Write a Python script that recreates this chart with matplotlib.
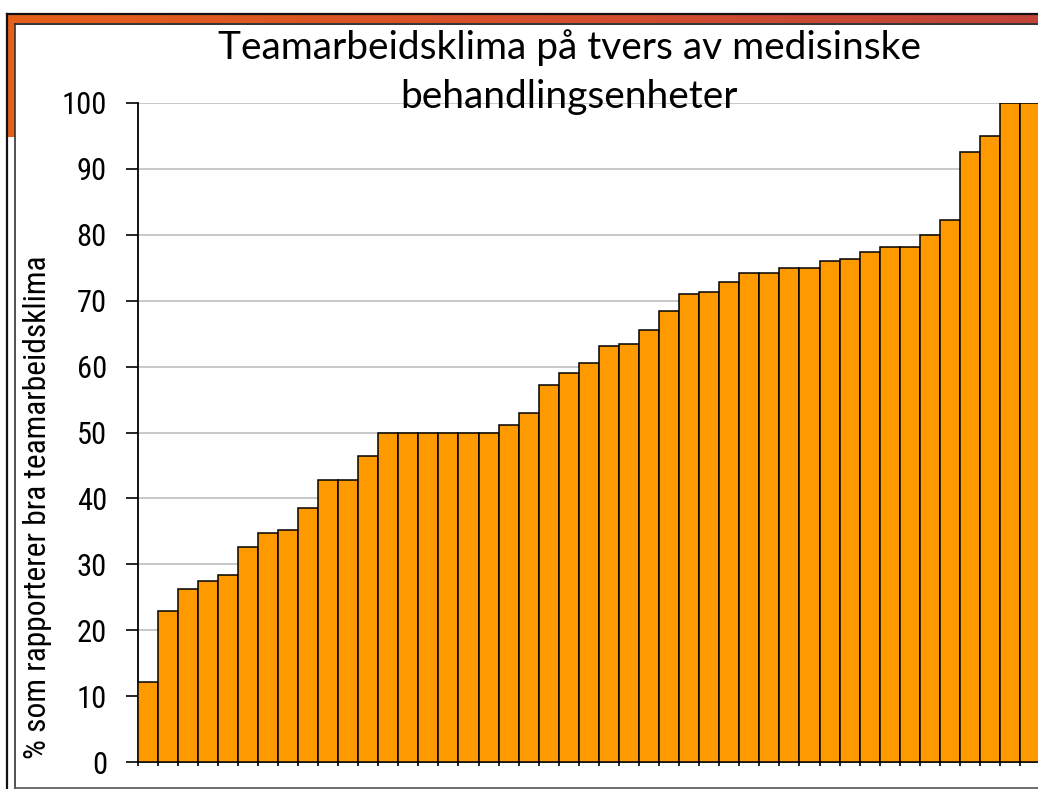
import numpy as np
import matplotlib.pyplot as plt
from matplotlib import font_manager
from matplotlib.patches import Rectangle
from matplotlib.colors import LinearSegmentedColormap

W, H = 1038, 789

title = "Teamarbeidsklima på tvers av medisinske\nbehandlingsenheter"
ylabel = "% som rapporterer bra teamarbeidsklima"

# one bar per unit, sorted ascending
values = [12.1, 22.9, 26.3, 27.4, 28.4, 32.6, 34.7, 35.2, 38.6, 42.8,
          42.8, 46.5, 50.0, 50.0, 50.0, 50.0, 50.0, 50.0, 51.2, 53.0,
          57.2, 59.0, 60.6, 63.2, 63.5, 65.6, 68.4, 71.0, 71.3, 72.9,
          74.2, 74.2, 75.0, 75.0, 76.0, 76.3, 77.4, 78.1, 78.1, 80.0,
          82.3, 92.6, 95.0, 100.0, 100.0]
yticks = list(range(0, 101, 10))


def first_font(names):
    for n in names:
        try:
            font_manager.findfont(n, fallback_to_default=False)
            return n
        except ValueError:
            pass
    return "DejaVu Sans"


narrow = first_font(["Liberation Sans Narrow", "Arial Narrow",
                     "Roboto Condensed", "Liberation Sans"])


def fx(px):
    return px / W


def fy(py):
    return 1 - py / H


fig = plt.figure(figsize=(W / 100, H / 100), dpi=100)

# slide frame
strip = fig.add_axes([fx(7), fy(23), fx(1038 - 7), (23 - 14) / H])
cm = LinearSegmentedColormap.from_list("s", ["#E6601A", "#D5502C", "#C2443A"])
strip.imshow(np.linspace(0, 1, 256)[None, :], aspect="auto", cmap=cm)
strip.set_axis_off()
fig.patches.append(Rectangle((fx(7), fy(137)), fx(8), (137 - 14) / H,
                             transform=fig.transFigure, color="#E6601A", lw=0))
lines = [
    ([7, 1038], [13.5, 13.5], "#111111", 1.6),
    ([15, 1038], [23.5, 23.5], "#111111", 1.2),
    ([7, 7], [13.5, 789], "#111111", 1.6),
    ([15, 15], [23.5, 788], "#333333", 1.2),
    ([15, 1038], [787.5, 787.5], "#555555", 1.2),
]
for xs, ys, c, lw in lines:
    fig.add_artist(plt.Line2D([fx(x) for x in xs], [fy(y) for y in ys],
                              color=c, lw=lw, transform=fig.transFigure))

x0, x1 = 137.5, 137.5 + 45 * 20.06
ax = fig.add_axes([fx(x0), fy(762), fx(x1 - x0), (762 - 103) / H])
pos = np.arange(len(values)) + 0.5
ax.bar(pos, values, width=1.0, color="#FF9900", edgecolor="black",
       linewidth=1.1, zorder=3)
ax.set_xlim(0, len(values))
ax.set_ylim(0, 100)
ax.set_yticks(yticks)
ax.set_xticks(np.arange(len(values) + 1))
ax.set_xticklabels([])
ax.yaxis.grid(True, color="#C4C4C4", lw=1.3, zorder=0)
ax.set_axisbelow(True)
for s in ("top", "right"):
    ax.spines[s].set_visible(False)
for s in ("left", "bottom"):
    ax.spines[s].set_linewidth(1.3)
ax.tick_params(axis="y", length=9, width=1.2, pad=13, labelsize=22)
ax.tick_params(axis="x", length=3, width=1.2)
for lab in ax.get_yticklabels():
    lab.set_family(narrow)

fig.text(fx(38), fy(507), ylabel, rotation=90, ha="center", va="center",
         fontsize=22.7, family=narrow)
fig.text(fx(569), fy(29), title, ha="center", va="top", fontsize=28,
         family=["Lato", "DejaVu Sans"], linespacing=1.45)

fig.savefig("out.png", dpi=100)
